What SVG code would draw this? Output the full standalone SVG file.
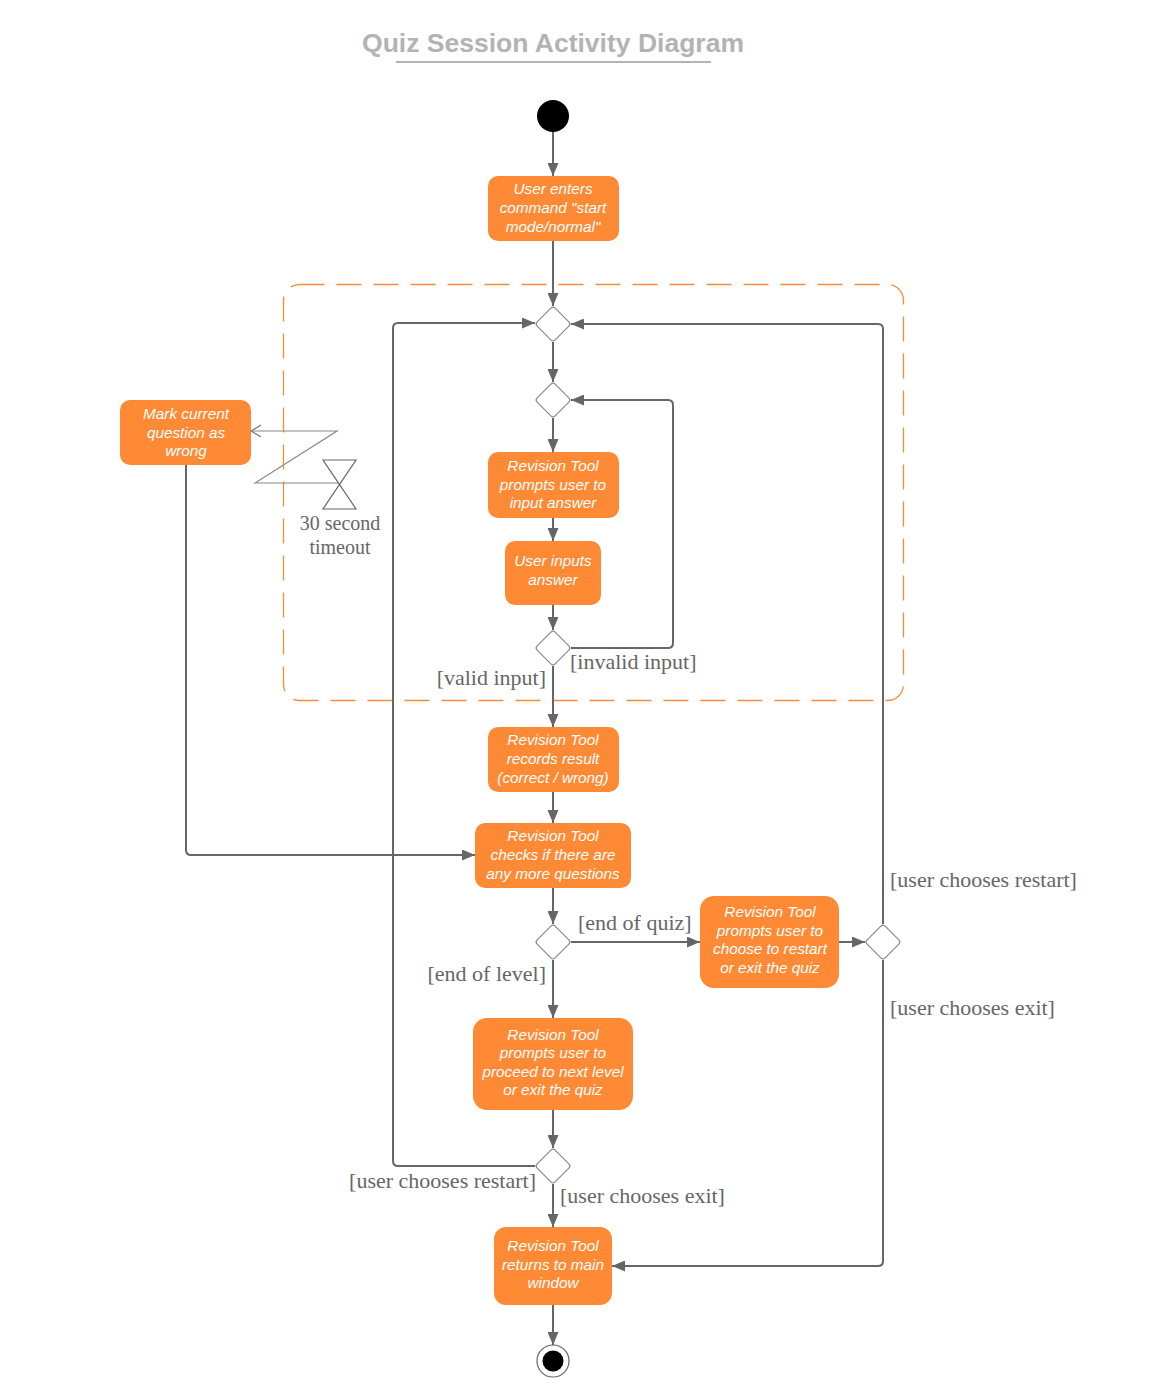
<svg xmlns="http://www.w3.org/2000/svg" width="1154" height="1396" viewBox="0 0 1154 1396">
<defs>
<marker id="arr" markerUnits="userSpaceOnUse" markerWidth="14" markerHeight="11" refX="13" refY="5.5" orient="auto">
<path d="M0,0 L13,5.5 L0,11 z" fill="#666"/>
</marker>
<marker id="open" markerUnits="userSpaceOnUse" markerWidth="12" markerHeight="14" refX="11" refY="7" orient="auto">
<path d="M1,1 L11,7 L1,13" fill="none" stroke="#777" stroke-width="1.2"/>
</marker>
<style>
.box{fill:#FF8A35;}
.bt{font-family:"Liberation Sans",Arial,sans-serif;font-style:italic;font-size:15.3px;fill:#fff;text-anchor:middle;}
.lbl{font-family:"Liberation Serif","Times New Roman",serif;font-size:22px;fill:#666;}
.c{fill:none;stroke:#666;stroke-width:2;}
.ca{fill:none;stroke:#666;stroke-width:2;marker-end:url(#arr);}
.dia{fill:#fff;stroke:#888;stroke-width:1.2;}
</style>
</defs>
<rect width="1154" height="1396" fill="#fff"/>

<g id="title">
<text x="553" y="52" font-family="'Liberation Sans',Arial,sans-serif" font-weight="bold" font-size="26.5" fill="#b3b3b3" text-anchor="middle">Quiz Session Activity Diagram</text>
<line x1="396" y1="62" x2="711" y2="62" stroke="#b3b3b3" stroke-width="2"/>
</g>

<g id="loop-frame">
<rect x="283.5" y="284.5" width="620" height="416" rx="16" fill="none" stroke="#FF8A35" stroke-width="1.3" stroke-dasharray="25 12"/>
</g>

<g id="connectors">
<path class="ca" d="M553,132 V176"/>
<path class="ca" d="M553,241 V306"/>
<path class="ca" d="M553,342 V382"/>
<path class="ca" d="M553,418 V452"/>
<path class="ca" d="M553,518 V541"/>
<path class="ca" d="M553,605 V630"/>
<path class="ca" d="M571,648 H668 Q673,648 673,643 V405 Q673,400 668,400 H571"/>
<path class="ca" d="M553,666 V727"/>
<path class="ca" d="M553,792 V823"/>
<path class="ca" d="M553,888 V924"/>
<path class="ca" d="M571,942 H700"/>
<path class="ca" d="M839,942 H865"/>
<path class="ca" d="M883,924 V329 Q883,324 878,324 H571"/>
<path class="ca" d="M883,960 V1261 Q883,1266 878,1266 H612"/>
<path class="ca" d="M553,960 V1018"/>
<path class="ca" d="M553,1110 V1148"/>
<path class="ca" d="M535,1166 H398 Q393,1166 393,1161 V328 Q393,323 398,323 H535"/>
<path class="ca" d="M553,1184 V1227"/>
<path class="ca" d="M553,1305 V1345"/>
<path class="ca" d="M186,465 V850 Q186,855 191,855 H475"/>
<path d="M340,483 H255 L337,431 H251" fill="none" stroke="#888" stroke-width="1.2" marker-end="url(#open)"/>
</g>

<g id="start"><circle cx="553" cy="116" r="16" fill="#000"/></g>

<g id="n1">
<rect class="box" x="488" y="176" width="131" height="65" rx="10"/>
<text class="bt" x="553" y="194">User enters</text>
<text class="bt" x="553" y="213">command "start</text>
<text class="bt" x="553" y="232">mode/normal"</text>
</g>

<g id="d1"><rect class="dia" x="-12.7" y="-12.7" width="25.4" height="25.4" rx="3" transform="translate(553,324) rotate(45)"/></g>
<g id="d2"><rect class="dia" x="-12.7" y="-12.7" width="25.4" height="25.4" rx="3" transform="translate(553,400) rotate(45)"/></g>

<g id="n2">
<rect class="box" x="488" y="452" width="131" height="66" rx="10"/>
<text class="bt" x="553" y="471">Revision Tool</text>
<text class="bt" x="553" y="490">prompts user to</text>
<text class="bt" x="553" y="508">input answer</text>
</g>

<g id="n3">
<rect class="box" x="505" y="541" width="96" height="64" rx="10"/>
<text class="bt" x="553" y="566">User inputs</text>
<text class="bt" x="553" y="585">answer</text>
</g>

<g id="d3"><rect class="dia" x="-12.7" y="-12.7" width="25.4" height="25.4" rx="3" transform="translate(553,648) rotate(45)"/></g>

<g id="labels-inner">
<text class="lbl" x="570" y="669">[invalid input]</text>
<text class="lbl" x="546" y="685" text-anchor="end">[valid input]</text>
</g>

<g id="mark">
<rect class="box" x="120" y="400" width="131" height="65" rx="10"/>
<text class="bt" x="186" y="419">Mark current</text>
<text class="bt" x="186" y="438">question as</text>
<text class="bt" x="186" y="456">wrong</text>
</g>

<g id="timeout">
<path d="M323,460 L356,460 L323,509 L356,509 Z" fill="#fff" stroke="#666" stroke-width="1.2" stroke-linejoin="miter"/>
<text x="340" y="530" font-family="'Liberation Serif','Times New Roman',serif" font-size="20" fill="#666" text-anchor="middle">30 second</text>
<text x="340" y="554" font-family="'Liberation Serif','Times New Roman',serif" font-size="20" fill="#666" text-anchor="middle">timeout</text>
</g>

<g id="n4">
<rect class="box" x="488" y="727" width="131" height="65" rx="10"/>
<text class="bt" x="553" y="745">Revision Tool</text>
<text class="bt" x="553" y="764">records result</text>
<text class="bt" x="553" y="783">(correct / wrong)</text>
</g>

<g id="n5">
<rect class="box" x="475" y="823" width="156" height="65" rx="10"/>
<text class="bt" x="553" y="841">Revision Tool</text>
<text class="bt" x="553" y="860">checks if there are</text>
<text class="bt" x="553" y="879">any more questions</text>
</g>

<g id="d4"><rect class="dia" x="-12.7" y="-12.7" width="25.4" height="25.4" rx="3" transform="translate(553,942) rotate(45)"/></g>

<g id="n6">
<rect class="box" x="700" y="896" width="139" height="92" rx="14"/>
<text class="bt" x="770" y="917">Revision Tool</text>
<text class="bt" x="770" y="936">prompts user to</text>
<text class="bt" x="770" y="954">choose to restart</text>
<text class="bt" x="770" y="973">or exit the quiz</text>
</g>

<g id="d5"><rect class="dia" x="-12.7" y="-12.7" width="25.4" height="25.4" rx="3" transform="translate(883,942) rotate(45)"/></g>

<g id="n7">
<rect class="box" x="473" y="1018" width="160" height="92" rx="14"/>
<text class="bt" x="553" y="1040">Revision Tool</text>
<text class="bt" x="553" y="1058">prompts user to</text>
<text class="bt" x="553" y="1077">proceed to next level</text>
<text class="bt" x="553" y="1095">or exit the quiz</text>
</g>

<g id="d6"><rect class="dia" x="-12.7" y="-12.7" width="25.4" height="25.4" rx="3" transform="translate(553,1166) rotate(45)"/></g>

<g id="n8">
<rect class="box" x="494" y="1227" width="118" height="78" rx="12"/>
<text class="bt" x="553" y="1251">Revision Tool</text>
<text class="bt" x="553" y="1270">returns to main</text>
<text class="bt" x="553" y="1288">window</text>
</g>

<g id="end">
<circle cx="553" cy="1361" r="16" fill="#fff" stroke="#666" stroke-width="1.2"/>
<circle cx="553" cy="1361" r="10.5" fill="#000"/>
</g>

<g id="labels">
<text class="lbl" x="578" y="930">[end of quiz]</text>
<text class="lbl" x="546" y="981" text-anchor="end">[end of level]</text>
<text class="lbl" x="890" y="887">[user chooses restart]</text>
<text class="lbl" x="890" y="1015">[user chooses exit]</text>
<text class="lbl" x="536" y="1188" text-anchor="end">[user chooses restart]</text>
<text class="lbl" x="560" y="1203">[user chooses exit]</text>
</g>
</svg>
